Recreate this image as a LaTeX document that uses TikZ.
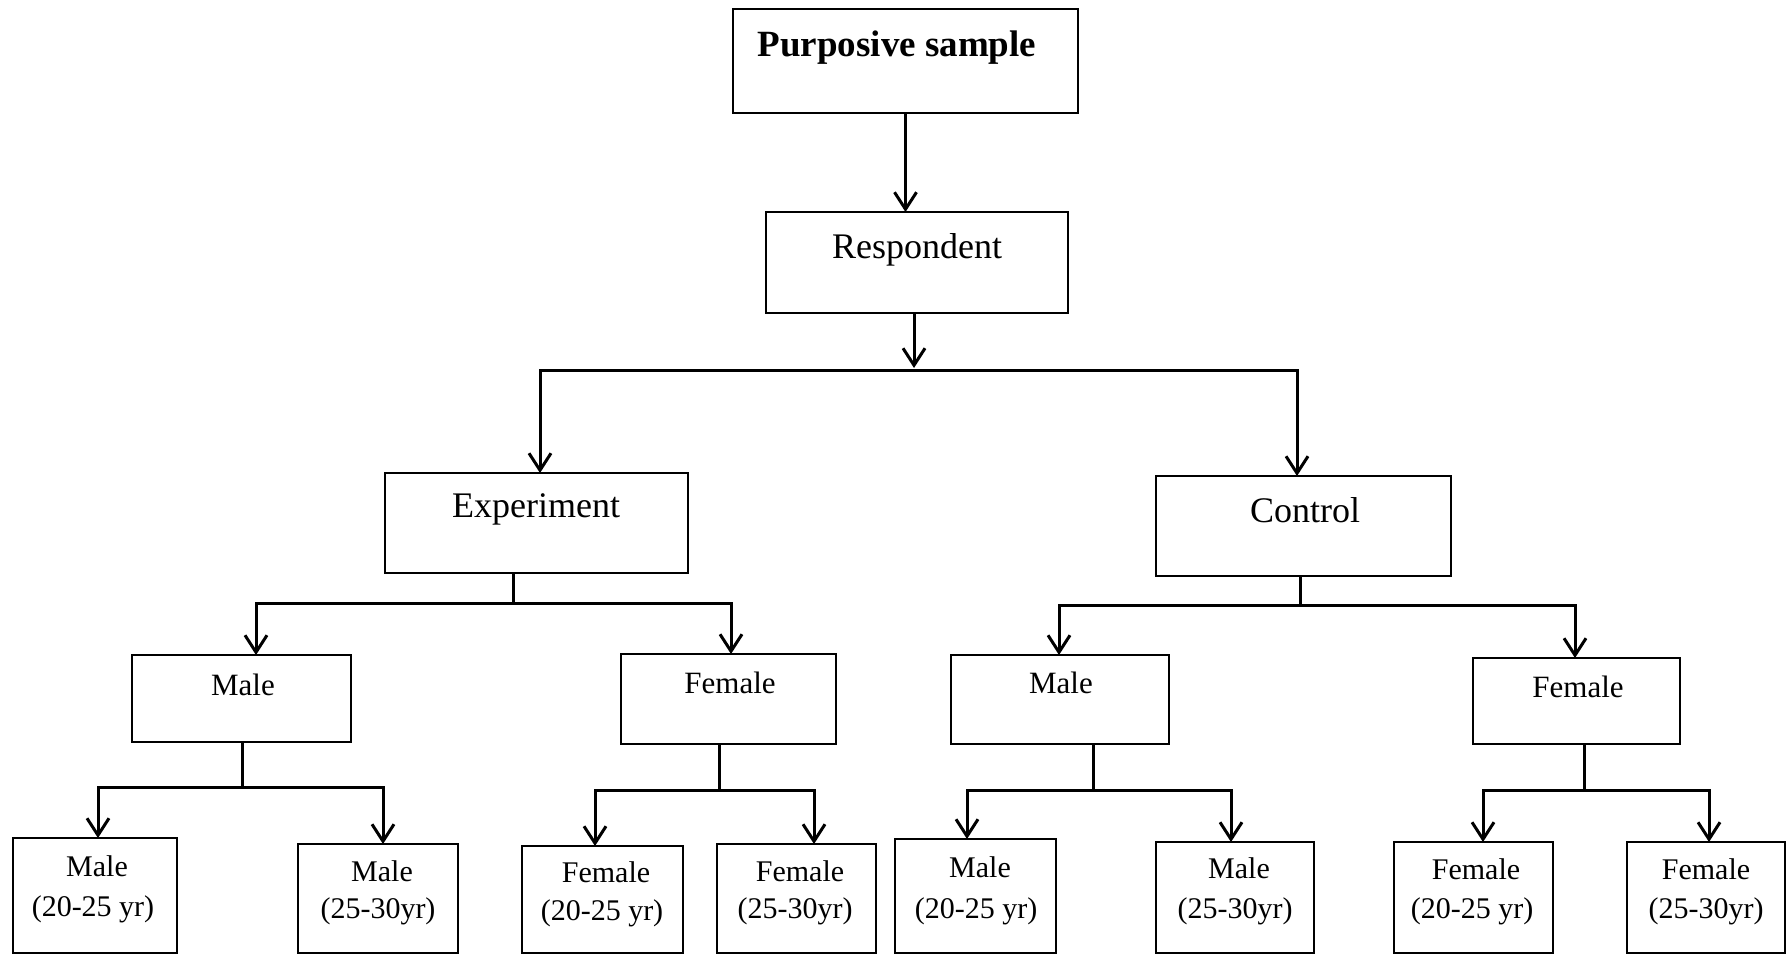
\documentclass[tikz,border=0pt]{standalone}
\usepackage{fontspec}
\setmainfont{Liberation Serif}
\usetikzlibrary{arrows.meta}
\begin{document}
\begin{tikzpicture}[x=1pt,y=-1pt,
  box/.style={draw, line width=2.8pt, inner sep=0pt, outer sep=0pt},
  ln/.style={line width=3pt},
  arr/.style={line width=3pt, -{Straight Barb[length=17pt,width=22pt]}},
  dbl/.style={line width=3pt, {Straight Barb[length=17pt,width=22pt]}-{Straight Barb[length=17pt,width=22pt]}},
  tbig/.style={anchor=base, inner sep=0pt, font=\fontsize{36}{40}\selectfont},
  tmid/.style={anchor=base, inner sep=0pt, font=\fontsize{31}{36}\selectfont},
  tsm/.style={anchor=base, inner sep=0pt, font=\fontsize{30}{34}\selectfont}]
\useasboundingbox (0,0) rectangle (1787,955);
\fill[white] (0,0) rectangle (1787,955);

% boxes
\node[box, minimum width=345pt, minimum height=104pt] (p) at (905.5,61) {};
\node[box, minimum width=302pt, minimum height=101pt] (r) at (917,262.5) {};
\node[box, minimum width=303pt, minimum height=100pt] (e) at (536.5,523) {};
\node[box, minimum width=295pt, minimum height=100pt] (c) at (1303.5,526) {};
\node[box, minimum width=219pt, minimum height=87pt] (mE) at (241.5,698.5) {};
\node[box, minimum width=215pt, minimum height=90pt] (fE) at (728.5,699) {};
\node[box, minimum width=218pt, minimum height=89pt] (mC) at (1060,699.5) {};
\node[box, minimum width=207pt, minimum height=86pt] (fC) at (1576.5,701) {};
\node[box, minimum width=164pt, minimum height=115pt] (L1) at (95,895.5) {};
\node[box, minimum width=160pt, minimum height=109pt] (L2) at (378,898.5) {};
\node[box, minimum width=161pt, minimum height=107pt] (L3) at (602.5,899.5) {};
\node[box, minimum width=159pt, minimum height=109pt] (L4) at (796.5,898.5) {};
\node[box, minimum width=161pt, minimum height=114pt] (L5) at (975.5,896) {};
\node[box, minimum width=158pt, minimum height=111pt] (L6) at (1235,897.5) {};
\node[box, minimum width=159pt, minimum height=111pt] (L7) at (1473.5,897.5) {};
\node[box, minimum width=158pt, minimum height=111pt] (L8) at (1706,897.5) {};

% texts
\node[tbig, font=\fontsize{37}{40}\selectfont\bfseries] (tp) at (897,57) {Purposive sample};
\node[tbig] (tr) at (917,258) {Respondent};
\node[tbig] (te) at (536,517) {Experiment};
\node[tbig] (tc) at (1305,522) {Control};
\node[tmid] (tmE) at (243,695) {Male};
\node[tmid] (tfE) at (730,693) {Female};
\node[tmid] (tmC) at (1061,693) {Male};
\node[tmid] (tfC) at (1578,697) {Female};
\node[tsm] (t1a) at (97,876) {Male};
\node[tsm] (t1b) at (93,916) {(20-25 yr)};
\node[tsm] (t2a) at (382,881) {Male};
\node[tsm] (t2b) at (378,918) {(25-30yr)};
\node[tsm] (t3a) at (606,882) {Female};
\node[tsm] (t3b) at (602,920) {(20-25 yr)};
\node[tsm] (t4a) at (800,881) {Female};
\node[tsm] (t4b) at (795,918) {(25-30yr)};
\node[tsm] (t5a) at (980,877) {Male};
\node[tsm] (t5b) at (976,918) {(20-25 yr)};
\node[tsm] (t6a) at (1239,878) {Male};
\node[tsm] (t6b) at (1235,918) {(25-30yr)};
\node[tsm] (t7a) at (1476,879) {Female};
\node[tsm] (t7b) at (1472,918) {(20-25 yr)};
\node[tsm] (t8a) at (1706,879) {Female};
\node[tsm] (t8b) at (1706,918) {(25-30yr)};

% connectors
\draw[arr] (p.south) -- (p.south |- r.north);

\coordinate (j1) at (914,368);
\coordinate (j1L) at (540,370);
\coordinate (j1R) at (1297,370);
\draw[arr] (r.south -| j1) -- (j1);
\draw[dbl] (e.north -| j1L) -- (j1L) -- (j1R) -- (c.north -| j1R);

\coordinate (eS) at (513,603);
\coordinate (eL) at (256,603);
\coordinate (eR) at (731,603);
\draw[ln] (e.south -| eS) -- (eS);
\draw[dbl] (mE.north -| eL) -- (eL) -- (eR) -- (fE.north -| eR);

\coordinate (cS) at (1300,605);
\coordinate (cL) at (1059,605);
\coordinate (cR) at (1575,605);
\draw[ln] (c.south -| cS) -- (cS);
\draw[dbl] (mC.north -| cL) -- (cL) -- (cR) -- (fC.north -| cR);

\coordinate (mES) at (242,787);
\coordinate (mEL) at (98,787);
\coordinate (mER) at (383,787);
\draw[ln] (mE.south -| mES) -- (mES);
\draw[dbl] (L1.north -| mEL) -- (mEL) -- (mER) -- (L2.north -| mER);

\coordinate (fES) at (719,790);
\coordinate (fEL) at (595,790);
\coordinate (fER) at (814,790);
\draw[ln] (fE.south -| fES) -- (fES);
\draw[dbl] (L3.north -| fEL) -- (fEL) -- (fER) -- (L4.north -| fER);

\coordinate (mCS) at (1093,790);
\coordinate (mCL) at (967,790);
\coordinate (mCR) at (1231,790);
\draw[ln] (mC.south -| mCS) -- (mCS);
\draw[dbl] (L5.north -| mCL) -- (mCL) -- (mCR) -- (L6.north -| mCR);

\coordinate (fCS) at (1584,790);
\coordinate (fCL) at (1483,790);
\coordinate (fCR) at (1709,790);
\draw[ln] (fC.south -| fCS) -- (fCS);
\draw[dbl] (L7.north -| fCL) -- (fCL) -- (fCR) -- (L8.north -| fCR);
\end{tikzpicture}
\end{document}
